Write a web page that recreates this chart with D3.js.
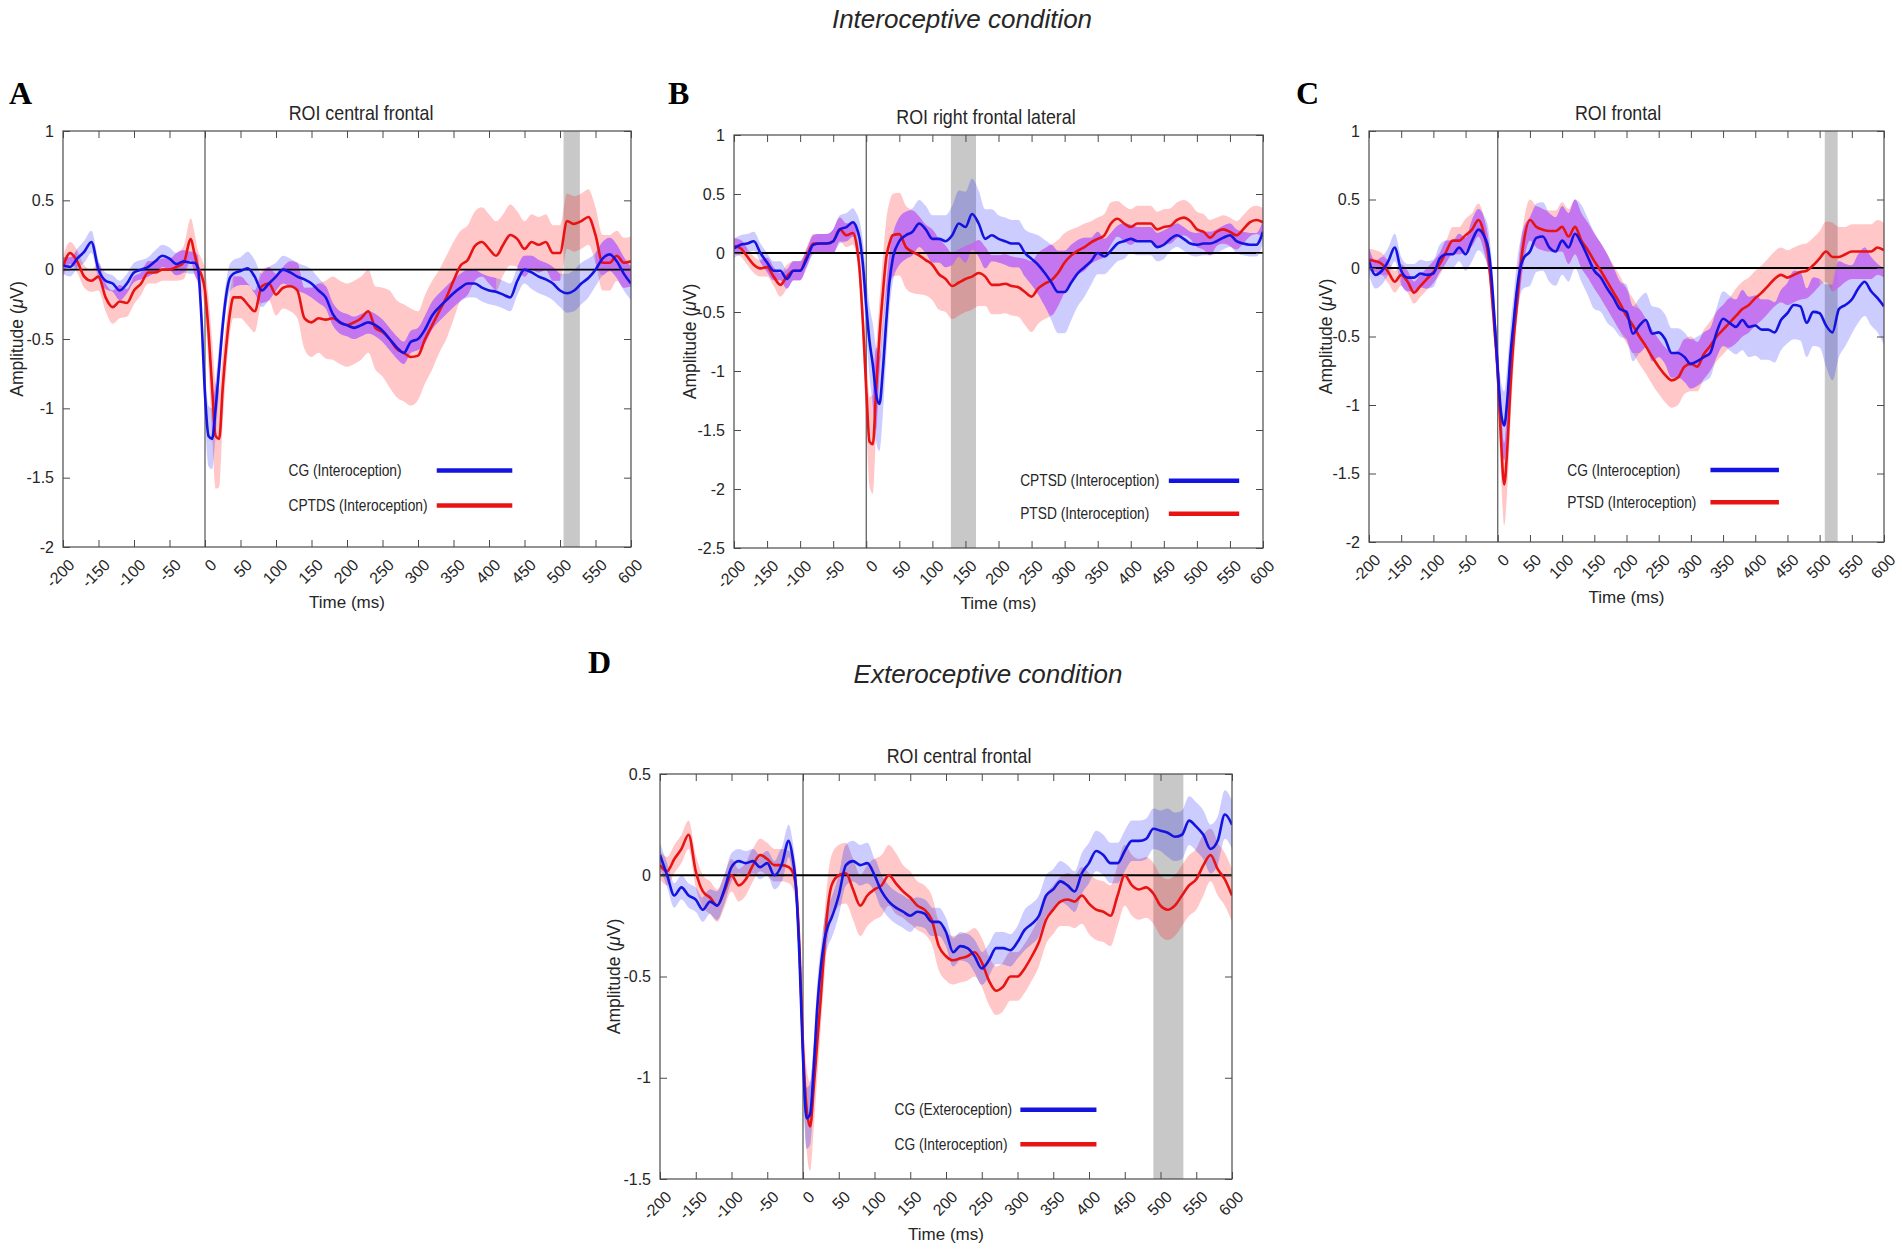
<!DOCTYPE html>
<html>
<head>
<meta charset="utf-8">
<script src="https://cdn.jsdelivr.net/npm/d3@7"></script>
<style>
	body{margin:0;background:#fff;}
	svg text{font-family:"Liberation Sans",Arial,sans-serif;fill:#262626;}
</style>
</head>
<body>
<svg id="fig" width="1902" height="1255"></svg>
<script>
"use strict";

// sample times (ms), finer around the stimulus onset
var times = [-200,-190,-180,-170,-160,-150,-140,-130,-120,-110,-100,-90,-80,-70,-60,-50,-40,-30,-20,
	-15,-10,-5,0,5,10,15,20,25,30,35,40,
	50,60,70,80,90,100,110,120,130,140,150,160,170,180,190,200,210,220,230,240,250,260,270,280,290,300,
	310,320,330,340,350,360,370,380,390,400,410,420,430,440,450,460,470,480,490,500,510,520,530,540,550,560,570,580,590,600];

var xTicks = [-200,-150,-100,-50,0,50,100,150,200,250,300,350,400,450,500,550,600];
var yTicksA = [-2,-1.5,-1,-0.5,0,0.5,1];
var yTicksB = [-2.5,-2,-1.5,-1,-0.5,0,0.5,1];
var yTicksC = [-2,-1.5,-1,-0.5,0,0.5,1];
var yTicksD = [-1.5,-1,-0.5,0,0.5];

// A - ROI central frontal (interoceptive)
var blueA = [0.03,0.02,0.08,0.13,0.2,0.0,-0.08,-0.1,-0.15,-0.1,-0.02,0.0,0.02,0.06,0.1,0.08,0.04,0.06,0.05,
	0.05,0.01,-0.35,-0.9,-1.2,-1.22,-1.0,-0.7,-0.4,-0.18,-0.06,-0.03,
	-0.01,0.01,-0.05,-0.15,-0.1,-0.05,0.0,-0.02,-0.05,-0.07,-0.1,-0.15,-0.2,-0.32,-0.38,-0.4,-0.42,-0.4,-0.38,-0.4,-0.44,-0.5,-0.56,-0.6,-0.52,-0.5,
	-0.43,-0.33,-0.27,-0.22,-0.17,-0.13,-0.1,-0.1,-0.13,-0.15,-0.16,-0.18,-0.2,-0.08,0.0,-0.02,-0.05,-0.07,-0.1,-0.15,-0.17,-0.15,-0.1,-0.06,0.0,0.08,0.11,0.06,-0.03,-0.1];
var blueAsd = [0.06,0.07,0.07,0.08,0.08,0.07,0.06,0.06,0.07,0.07,0.07,0.07,0.07,0.08,0.08,0.08,0.08,0.08,0.08,
	0.08,0.09,0.12,0.18,0.22,0.22,0.2,0.16,0.12,0.1,0.1,0.1,
	0.1,0.12,0.12,0.12,0.12,0.1,0.1,0.1,0.1,0.1,0.1,0.09,0.08,0.08,0.08,0.08,0.08,0.08,0.08,0.08,0.08,0.08,0.08,0.08,0.08,0.08,
	0.1,0.1,0.1,0.1,0.1,0.1,0.1,0.1,0.1,0.1,0.1,0.1,0.1,0.1,0.1,0.12,0.12,0.12,0.12,0.12,0.14,0.15,0.15,0.14,0.12,0.12,0.12,0.12,0.12,0.12];
var redA = [0.02,0.12,0.06,-0.05,-0.08,-0.05,-0.2,-0.27,-0.23,-0.24,-0.15,-0.1,-0.02,-0.02,0.0,0.0,0.02,0.05,0.22,
	0.12,0.02,-0.04,-0.15,-0.45,-0.85,-1.2,-1.22,-0.85,-0.55,-0.32,-0.2,
	-0.2,-0.25,-0.3,-0.12,-0.1,-0.18,-0.13,-0.12,-0.15,-0.35,-0.38,-0.35,-0.36,-0.35,-0.38,-0.4,-0.38,-0.35,-0.3,-0.42,-0.45,-0.5,-0.57,-0.6,-0.63,-0.62,
	-0.5,-0.4,-0.3,-0.2,-0.08,0.03,0.07,0.17,0.2,0.15,0.1,0.18,0.25,0.22,0.15,0.2,0.18,0.2,0.12,0.12,0.35,0.33,0.35,0.38,0.25,0.05,0.05,0.1,0.05,0.06];
var redAsd = [0.08,0.08,0.08,0.08,0.08,0.1,0.1,0.12,0.12,0.1,0.1,0.08,0.08,0.08,0.08,0.08,0.1,0.12,0.15,
	0.15,0.12,0.12,0.15,0.25,0.35,0.38,0.35,0.25,0.18,0.15,0.15,
	0.15,0.15,0.15,0.12,0.12,0.15,0.15,0.18,0.2,0.22,0.25,0.25,0.28,0.3,0.3,0.3,0.3,0.3,0.3,0.3,0.32,0.35,0.35,0.35,0.35,0.32,
	0.32,0.32,0.3,0.3,0.28,0.25,0.25,0.25,0.25,0.25,0.25,0.22,0.22,0.2,0.2,0.2,0.2,0.2,0.2,0.2,0.2,0.2,0.2,0.2,0.2,0.2,0.2,0.18,0.18,0.18];

// B - ROI right frontal lateral
var blueB = [0.04,0.07,0.08,0.1,0.0,-0.08,-0.15,-0.15,-0.22,-0.15,-0.15,-0.05,0.07,0.08,0.08,0.1,0.2,0.22,0.26,
	0.22,0.12,-0.1,-0.45,-0.75,-0.95,-1.2,-1.28,-1.0,-0.6,-0.25,-0.05,
	0.1,0.15,0.18,0.25,0.2,0.12,0.12,0.1,0.15,0.25,0.22,0.33,0.25,0.12,0.15,0.12,0.1,0.08,0.08,0.0,-0.05,-0.1,-0.17,-0.25,-0.33,-0.33,
	-0.25,-0.17,-0.12,-0.07,0.0,-0.03,0.02,0.08,0.1,0.12,0.1,0.1,0.1,0.05,0.07,0.12,0.15,0.12,0.08,0.07,0.08,0.08,0.1,0.13,0.15,0.1,0.08,0.07,0.07,0.18];
var blueBsd = [0.08,0.08,0.08,0.08,0.08,0.08,0.08,0.08,0.08,0.08,0.08,0.08,0.08,0.08,0.08,0.1,0.12,0.12,0.12,
	0.12,0.15,0.2,0.25,0.3,0.35,0.4,0.4,0.38,0.3,0.25,0.2,
	0.2,0.2,0.2,0.2,0.2,0.2,0.2,0.22,0.25,0.28,0.3,0.3,0.28,0.25,0.22,0.2,0.2,0.2,0.2,0.2,0.22,0.25,0.28,0.32,0.35,0.35,
	0.32,0.28,0.25,0.2,0.18,0.15,0.15,0.15,0.15,0.12,0.12,0.12,0.12,0.12,0.12,0.1,0.1,0.1,0.1,0.1,0.1,0.1,0.1,0.1,0.1,0.1,0.1,0.1,0.1,0.1];
var redB = [0.06,0.04,-0.03,-0.1,-0.13,-0.12,-0.2,-0.27,-0.2,-0.15,-0.15,-0.03,0.08,0.08,0.08,0.1,0.2,0.15,0.17,
	0.08,-0.15,-0.6,-1.15,-1.6,-1.62,-1.15,-0.7,-0.35,-0.05,0.08,0.15,
	0.16,0.05,0.01,-0.02,-0.06,-0.1,-0.18,-0.22,-0.28,-0.25,-0.22,-0.2,-0.17,-0.2,-0.27,-0.27,-0.26,-0.28,-0.29,-0.33,-0.37,-0.3,-0.26,-0.23,-0.17,-0.08,
	-0.02,0.02,0.05,0.09,0.12,0.15,0.25,0.29,0.25,0.22,0.25,0.25,0.25,0.2,0.22,0.23,0.28,0.3,0.27,0.2,0.18,0.13,0.18,0.2,0.18,0.15,0.2,0.26,0.28,0.26];
var redBsd = [0.07,0.07,0.07,0.07,0.07,0.08,0.08,0.1,0.1,0.08,0.08,0.08,0.08,0.08,0.08,0.1,0.1,0.1,0.1,
	0.1,0.12,0.2,0.3,0.38,0.42,0.35,0.3,0.3,0.32,0.35,0.35,
	0.35,0.35,0.35,0.33,0.3,0.3,0.3,0.28,0.28,0.28,0.28,0.28,0.28,0.25,0.25,0.25,0.25,0.25,0.25,0.28,0.3,0.3,0.3,0.3,0.28,0.25,
	0.22,0.2,0.2,0.18,0.18,0.18,0.18,0.15,0.15,0.15,0.15,0.15,0.15,0.15,0.15,0.15,0.15,0.15,0.15,0.15,0.15,0.15,0.12,0.12,0.12,0.12,0.12,0.12,0.12,0.12];

// C - ROI frontal
var blueC = [0.05,-0.05,-0.02,0.05,0.15,-0.02,-0.07,-0.07,-0.04,-0.05,-0.04,0.07,0.1,0.1,0.15,0.1,0.2,0.28,0.22,
	0.15,-0.05,-0.38,-0.75,-1.05,-1.15,-0.95,-0.62,-0.38,-0.15,0.0,0.07,
	0.12,0.22,0.23,0.15,0.12,0.2,0.15,0.25,0.18,0.08,-0.02,-0.07,-0.15,-0.22,-0.3,-0.32,-0.48,-0.42,-0.38,-0.48,-0.47,-0.52,-0.62,-0.62,-0.65,-0.7,
	-0.68,-0.65,-0.62,-0.47,-0.37,-0.4,-0.43,-0.38,-0.43,-0.42,-0.45,-0.45,-0.47,-0.38,-0.33,-0.27,-0.28,-0.4,-0.32,-0.33,-0.42,-0.47,-0.3,-0.27,-0.23,-0.15,-0.1,-0.17,-0.22,-0.28];
var blueCsd = [0.1,0.1,0.1,0.1,0.1,0.1,0.1,0.1,0.1,0.1,0.1,0.1,0.1,0.1,0.1,0.12,0.15,0.15,0.15,
	0.15,0.15,0.15,0.18,0.22,0.25,0.25,0.22,0.2,0.2,0.2,0.22,
	0.25,0.25,0.25,0.25,0.25,0.25,0.25,0.25,0.28,0.28,0.28,0.25,0.25,0.22,0.2,0.2,0.2,0.2,0.2,0.2,0.18,0.18,0.18,0.18,0.18,0.18,
	0.18,0.18,0.18,0.18,0.2,0.2,0.2,0.22,0.22,0.22,0.22,0.22,0.22,0.22,0.22,0.25,0.25,0.25,0.25,0.25,0.3,0.35,0.35,0.3,0.25,0.25,0.25,0.25,0.25,0.28];
var redC = [0.06,0.05,0.03,-0.03,-0.1,-0.05,-0.1,-0.18,-0.13,-0.08,-0.03,0.03,0.12,0.2,0.2,0.24,0.28,0.35,0.22,
	0.1,-0.15,-0.45,-0.75,-1.25,-1.58,-1.3,-0.85,-0.5,-0.25,0.0,0.18,
	0.35,0.3,0.28,0.27,0.27,0.3,0.23,0.3,0.2,0.13,0.05,-0.02,-0.1,-0.18,-0.26,-0.35,-0.42,-0.5,-0.57,-0.65,-0.72,-0.78,-0.82,-0.8,-0.72,-0.7,
	-0.72,-0.63,-0.57,-0.5,-0.45,-0.4,-0.35,-0.3,-0.27,-0.22,-0.18,-0.13,-0.08,-0.05,-0.07,-0.05,-0.03,-0.02,0.02,0.07,0.12,0.08,0.08,0.1,0.12,0.12,0.12,0.12,0.15,0.13];
var redCsd = [0.08,0.08,0.08,0.08,0.08,0.08,0.08,0.08,0.08,0.08,0.08,0.08,0.08,0.1,0.1,0.12,0.12,0.12,0.12,
	0.12,0.12,0.15,0.2,0.25,0.3,0.3,0.25,0.2,0.15,0.15,0.15,
	0.15,0.15,0.15,0.15,0.15,0.18,0.2,0.2,0.2,0.2,0.2,0.2,0.2,0.2,0.2,0.2,0.2,0.2,0.2,0.2,0.2,0.2,0.2,0.2,0.2,0.2,
	0.18,0.18,0.18,0.18,0.18,0.18,0.2,0.2,0.2,0.2,0.2,0.2,0.2,0.2,0.2,0.2,0.2,0.2,0.2,0.2,0.22,0.25,0.22,0.2,0.2,0.2,0.2,0.2,0.2,0.2];

// D - ROI central frontal (exteroceptive vs interoceptive)
var blueD = [0.1,0.0,-0.1,-0.06,-0.1,-0.12,-0.17,-0.13,-0.15,-0.07,0.04,0.07,0.06,0.07,0.04,0.06,0.0,0.05,0.17,
	0.1,-0.05,-0.4,-0.9,-1.2,-1.18,-0.95,-0.65,-0.45,-0.32,-0.25,-0.21,
	-0.1,0.05,0.07,0.05,0.06,0.0,-0.08,-0.13,-0.16,-0.18,-0.2,-0.18,-0.19,-0.23,-0.23,-0.28,-0.38,-0.35,-0.36,-0.4,-0.46,-0.42,-0.36,-0.36,-0.37,-0.33,
	-0.27,-0.24,-0.2,-0.1,-0.07,-0.03,-0.05,-0.08,0.01,0.06,0.12,0.1,0.06,0.06,0.12,0.17,0.17,0.18,0.23,0.22,0.21,0.19,0.2,0.27,0.24,0.2,0.13,0.17,0.3,0.25];
var blueDsd = [0.06,0.06,0.06,0.06,0.06,0.06,0.06,0.06,0.07,0.07,0.07,0.06,0.06,0.06,0.06,0.06,0.07,0.08,0.08,
	0.08,0.08,0.1,0.12,0.15,0.15,0.13,0.12,0.1,0.1,0.1,0.1,
	0.1,0.1,0.1,0.1,0.1,0.08,0.08,0.08,0.08,0.08,0.08,0.07,0.07,0.07,0.07,0.07,0.07,0.07,0.07,0.08,0.08,0.08,0.08,0.08,0.08,0.08,
	0.1,0.1,0.1,0.1,0.1,0.1,0.1,0.1,0.1,0.1,0.1,0.1,0.1,0.1,0.1,0.1,0.1,0.1,0.1,0.1,0.12,0.12,0.12,0.12,0.12,0.12,0.12,0.12,0.12,0.12];
var redD = [0.05,0.02,0.08,0.13,0.2,0.02,-0.08,-0.11,-0.15,-0.08,0.0,-0.05,-0.02,0.05,0.1,0.08,0.05,0.05,0.04,
	0.02,-0.05,-0.35,-0.85,-1.15,-1.24,-1.05,-0.82,-0.6,-0.35,-0.15,-0.05,
	0.0,0.01,-0.07,-0.15,-0.1,-0.07,-0.05,0.0,-0.04,-0.08,-0.11,-0.15,-0.17,-0.22,-0.35,-0.4,-0.42,-0.41,-0.4,-0.38,-0.43,-0.52,-0.57,-0.55,-0.5,-0.5,
	-0.46,-0.4,-0.33,-0.22,-0.17,-0.13,-0.12,-0.13,-0.1,-0.14,-0.17,-0.18,-0.2,-0.1,0.0,-0.05,-0.07,-0.06,-0.09,-0.15,-0.17,-0.15,-0.1,-0.05,-0.02,0.05,0.1,0.03,-0.02,-0.1];
var redDsd = [0.07,0.07,0.07,0.07,0.07,0.08,0.08,0.08,0.08,0.08,0.08,0.08,0.08,0.08,0.08,0.08,0.08,0.08,0.08,
	0.08,0.1,0.12,0.15,0.2,0.22,0.2,0.18,0.15,0.15,0.15,0.15,
	0.15,0.15,0.15,0.15,0.15,0.15,0.15,0.15,0.15,0.13,0.13,0.12,0.12,0.12,0.12,0.12,0.12,0.12,0.12,0.12,0.12,0.12,0.12,0.12,0.12,0.12,
	0.12,0.12,0.12,0.12,0.12,0.12,0.13,0.13,0.14,0.15,0.15,0.15,0.15,0.15,0.15,0.15,0.15,0.15,0.15,0.15,0.15,0.15,0.15,0.15,0.15,0.15,0.13,0.13,0.13,0.13];

var legendA = ["CG (Interoception)","CPTDS (Interoception)"];
var legendB = ["CPTSD (Interoception)","PTSD (Interoception)"];
var legendC = ["CG (Interoception)","PTSD (Interoception)"];
var legendD = ["CG (Exteroception)","CG (Interoception)"];

// significant windows (ms)
var sigA = [505,528];
var sigB = [128,166];
var sigC = [508,528];
var sigD = [490,532];

var svg = d3.select("#fig");

var BLUE = "#1414e0", RED = "#e81414";

function erpPanel(cfg){
	var x = d3.scaleLinear().domain([-200,600]).range([cfg.left, cfg.right]);
	var y = d3.scaleLinear()
			.domain([cfg.yTicks[0], cfg.yTicks[cfg.yTicks.length-1]])
			.range([cfg.bottom, cfg.top]);
	var w = cfg.right - cfg.left, h = cfg.bottom - cfg.top;

	var g = svg.append("g");
	var clipId = "clip" + cfg.letter;
	g.append("clipPath").attr("id", clipId)
		.append("rect")
			.attr("x", cfg.left).attr("y", cfg.top)
			.attr("width", w).attr("height", h);

	var plot = g.append("g").attr("clip-path", "url(#" + clipId + ")");

	plot.append("rect")
		.attr("x", x(cfg.sig[0]))
		.attr("y", cfg.top)
		.attr("width", x(cfg.sig[1]) - x(cfg.sig[0]))
		.attr("height", h)
		.style("fill", "#c8c8c8");

	var rows = times.map(function(t,i){
		return {t:t, b:cfg.blue[i], bs:cfg.blueSd[i], r:cfg.red[i], rs:cfg.redSd[i]};
	});

	var band = function(m, s){
		return d3.area()
			.curve(d3.curveMonotoneX)
			.x(function(d){return x(d.t)})
			.y0(function(d){return y(d[m] - d[s])})
			.y1(function(d){return y(d[m] + d[s])});
	};

	plot.append("path").datum(rows).attr("d", band("r","rs"))
		.style("fill", "#ff0000").style("fill-opacity", 0.22);
	plot.append("path").datum(rows).attr("d", band("b","bs"))
		.style("fill", "#0000ff").style("fill-opacity", 0.2);

	// where both error bands overlap
	var overlap = d3.area()
		.curve(d3.curveMonotoneX)
		.defined(function(d){return Math.min(d.b+d.bs, d.r+d.rs) > Math.max(d.b-d.bs, d.r-d.rs)})
		.x(function(d){return x(d.t)})
		.y0(function(d){return y(Math.max(d.b-d.bs, d.r-d.rs))})
		.y1(function(d){return y(Math.min(d.b+d.bs, d.r+d.rs))});
	plot.append("path").datum(rows).attr("d", overlap)
		.style("fill", cfg.mix).style("fill-opacity", 0.85);

	// zero lines
	plot.append("line")
		.attr("x1", x(0)).attr("x2", x(0))
		.attr("y1", cfg.top).attr("y2", cfg.bottom)
		.style("stroke", "#555").style("stroke-width", 1.2);
	plot.append("line")
		.attr("x1", cfg.left).attr("x2", cfg.right)
		.attr("y1", y(0)).attr("y2", y(0))
		.style("stroke", "#000").style("stroke-width", 1.8);

	var line = function(m){
		return d3.line()
			.curve(d3.curveMonotoneX)
			.x(function(d){return x(d.t)})
			.y(function(d){return y(d[m])});
	};
	plot.append("path").datum(rows).attr("d", line("r"))
		.style("fill", "none").style("stroke", RED).style("stroke-width", 2.6);
	plot.append("path").datum(rows).attr("d", line("b"))
		.style("fill", "none").style("stroke", BLUE).style("stroke-width", 2.6);

	// axes, matlab box style with inward ticks
	var bottomAxis = g.append("g")
		.attr("transform", "translate(0," + cfg.bottom + ")")
		.call(d3.axisBottom(x).tickValues(xTicks).tickSizeInner(-7).tickSizeOuter(0).tickFormat(function(d){return String(d)}));
	bottomAxis.selectAll("text")
		.attr("x", 0).attr("y", 0).attr("dy", "0.35em")
		.attr("transform", "translate(8,15) rotate(-45)")
		.style("text-anchor", "end");

	var topAxis = g.append("g")
		.attr("transform", "translate(0," + cfg.top + ")")
		.call(d3.axisTop(x).tickValues(xTicks).tickSizeInner(-7).tickSizeOuter(0).tickFormat(""));

	var leftAxis = g.append("g")
		.attr("transform", "translate(" + cfg.left + ",0)")
		.call(d3.axisLeft(y).tickValues(cfg.yTicks).tickSizeInner(-7).tickSizeOuter(0).tickPadding(9).tickFormat(function(d){return String(d)}));

	var rightAxis = g.append("g")
		.attr("transform", "translate(" + cfg.right + ",0)")
		.call(d3.axisRight(y).tickValues(cfg.yTicks).tickSizeInner(-7).tickSizeOuter(0).tickFormat(""));

	[bottomAxis, topAxis, leftAxis, rightAxis].forEach(function(a){
		a.select(".domain").remove();
		a.selectAll("line").style("stroke", "#4a4a4a");
		a.selectAll("text").style("font-size", "16px").style("fill", "#262626")
			.style("font-family", "'Liberation Sans', Arial, sans-serif");
	});

	g.append("rect")
		.attr("x", cfg.left).attr("y", cfg.top)
		.attr("width", w).attr("height", h)
		.style("fill", "none").style("stroke", "#4a4a4a").style("stroke-width", 1.2);

	// title, panel letter, axis labels
	g.append("text")
		.attr("transform", "translate(" + cfg.titleX + "," + (cfg.top - 11) + ") scale(0.85,1)")
		.attr("text-anchor", "middle")
		.style("font-size", "21px")
		.text(cfg.title);

	g.append("text")
		.attr("x", cfg.letterX).attr("y", cfg.letterY)
		.style("font-family", "'Liberation Serif', 'Times New Roman', serif")
		.style("font-weight", "bold")
		.style("font-size", "32px")
		.style("fill", "#000")
		.text(cfg.letter);

	var ylab = g.append("text")
		.attr("transform", "translate(" + cfg.ylabX + "," + (cfg.top + h/2) + ") rotate(-90)")
		.attr("text-anchor", "middle")
		.attr("dy", "0.35em")
		.style("font-size", "17.5px");
	ylab.append("tspan").text("Amplitude (");
	ylab.append("tspan").style("font-style", "italic").text("\u03bc");
	ylab.append("tspan").text("V)");

	g.append("text")
		.attr("x", cfg.left + w/2).attr("y", cfg.bottom + 61)
		.attr("text-anchor", "middle")
		.style("font-size", "17px")
		.text("Time (ms)");

	// legend
	var legend = g.selectAll("g.legenditem")
		.data([{name:cfg.names[0], c:BLUE}, {name:cfg.names[1], c:RED}])
		.enter().append("g").attr("class", "legenditem");

	legend.append("text")
		.attr("transform", function(d,i){
			return "translate(" + (cfg.left + cfg.legend[0]*w) + "," + (cfg.top + cfg.legend[3+i]*h) + ") scale(0.86,1)";
		})
		.attr("dy", "0.35em")
		.style("font-size", "16px")
		.text(function(d){return d.name});

	legend.append("line")
		.attr("x1", cfg.left + cfg.legend[1]*w)
		.attr("x2", cfg.left + cfg.legend[2]*w)
		.attr("y1", function(d,i){return cfg.top + cfg.legend[3+i]*h})
		.attr("y2", function(d,i){return cfg.top + cfg.legend[3+i]*h})
		.style("stroke", function(d){return d.c})
		.style("stroke-width", 4.5);
}

erpPanel({letter:"A", left:63, right:631, top:131, bottom:547, yTicks:yTicksA,
	title:"ROI central frontal", titleX:361, letterX:9, letterY:104, ylabX:17,
	blue:blueA, blueSd:blueAsd, red:redA, redSd:redAsd, names:legendA, sig:sigA,
	mix:"#c16ef4", legend:[0.397,0.658,0.791,0.816,0.9]});

erpPanel({letter:"B", left:734, right:1263, top:135, bottom:548, yTicks:yTicksB,
	title:"ROI right frontal lateral", titleX:986, letterX:668, letterY:104, ylabX:690,
	blue:blueB, blueSd:blueBsd, red:redB, redSd:redBsd, names:legendB, sig:sigB,
	mix:"#c16ef4", legend:[0.541,0.822,0.955,0.837,0.917]});

erpPanel({letter:"C", left:1369, right:1884, top:131, bottom:542, yTicks:yTicksC,
	title:"ROI frontal", titleX:1618, letterX:1296, letterY:104, ylabX:1326,
	blue:blueC, blueSd:blueCsd, red:redC, redSd:redCsd, names:legendC, sig:sigC,
	mix:"#c16ef4", legend:[0.385,0.663,0.796,0.825,0.903]});

erpPanel({letter:"D", left:660, right:1232, top:774, bottom:1179, yTicks:yTicksD,
	title:"ROI central frontal", titleX:959, letterX:588, letterY:673, ylabX:614,
	blue:blueD, blueSd:blueDsd, red:redD, redSd:redDsd, names:legendD, sig:sigD,
	mix:"#ba9bd9", legend:[0.41,0.63,0.763,0.829,0.914]});

svg.append("text")
	.attr("x", 962).attr("y", 28)
	.attr("text-anchor", "middle")
	.style("font-size", "26px").style("font-style", "italic")
	.text("Interoceptive condition");

svg.append("text")
	.attr("x", 988).attr("y", 683)
	.attr("text-anchor", "middle")
	.style("font-size", "26px").style("font-style", "italic")
	.text("Exteroceptive condition");
</script>
</body>
</html>
